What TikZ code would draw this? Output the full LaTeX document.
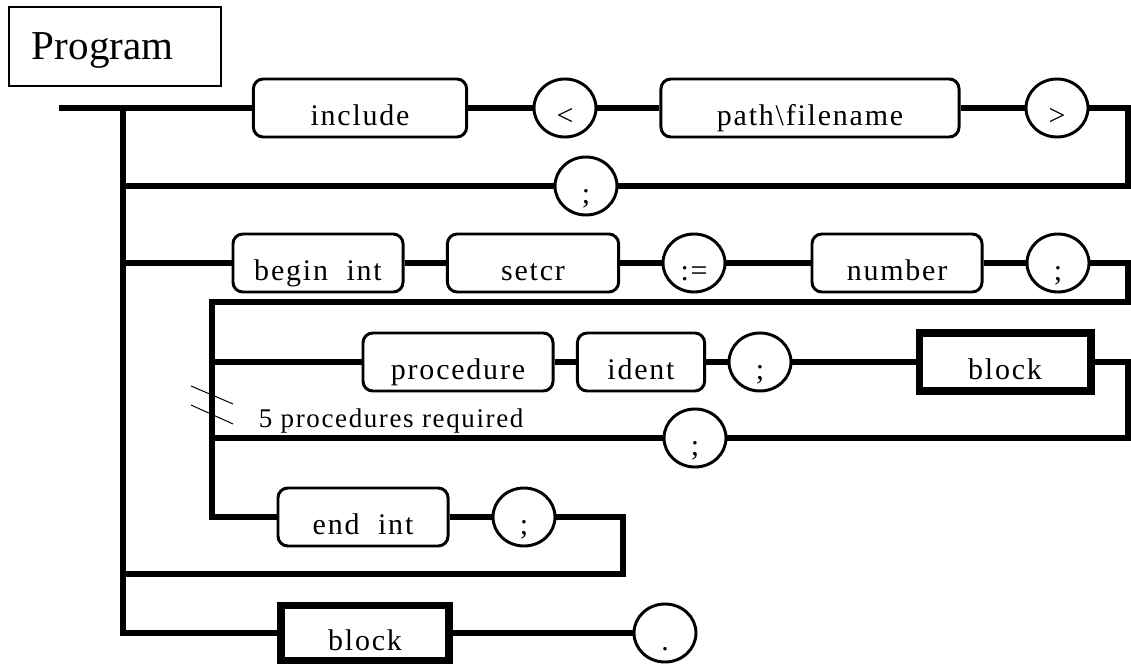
\documentclass[tikz,border=0pt]{standalone}
\usepackage{fontspec}
\setmainfont{Liberation Serif}
\newfontfamily\lblfont[LetterSpace=6]{Liberation Serif}
\usetikzlibrary{shapes.geometric}
\usetikzlibrary{calc}

\begin{document}
\begin{tikzpicture}
		[x=0.025cm, y=-0.025cm,
		line width=4pt,
		lbl/.style = {font=\lblfont\fontsize{21.3}{22}\selectfont},
		prog/.style = {draw, line width=1pt, minimum width=5.3cm, minimum height=1.975cm,
			text width=4.15cm, inner xsep=0.575cm, inner ysep=0pt, align=left,
			text height=1.175cm, text depth=0.5cm, font=\fontsize{29.2}{30}\selectfont},
		term/.style = {lbl, draw, rounded corners=7pt, line width=2.1pt, minimum height=1.45cm,
			inner sep=0pt, text height=0.85cm, text depth=0pt},
		sym/.style = {lbl, draw, ellipse, line width=2.1pt, minimum width=1.55cm, minimum height=1.45cm,
			inner sep=0pt, text height=0.85cm, text depth=0pt},
		nonterm/.style = {lbl, draw, line width=5.5pt, minimum height=1.45cm,
			inner sep=0pt, text height=0.85cm, text depth=0pt}
		]
		\useasboundingbox (0,0) rectangle (1131,668);

		\node[prog] (prog) at (115,46.5) {Program};

		% corners of the railroad
		\coordinate (start) at (59,108);
		\coordinate (top) at (123,108);
		\coordinate (bot) at (123,633);
		\coordinate (edgeA) at (1128,108);
		\coordinate (edgeB) at (1128,263);
		\coordinate (edgeC) at (1128,362);
		\coordinate (inner) at (212,302);
		\coordinate (back) at (623,574);

		% include line
		\node[term, minimum width=5.33cm] (incl) at (360,108) {include};
		\node[sym] (lt) at (565,108) {<};
		\node[term, minimum width=7.45cm] (path) at (810,108) {path\textbackslash filename};
		\node[sym] (gt) at (1057,108) {>};
		\node[sym] (semiA) at (586,186) {;};

		% begin int line
		\node[term, minimum width=4.25cm] (begint) at (318,263) {begin~ int};
		\node[term, minimum width=4.28cm] (setcr) at (533,263) {setcr};
		\node[sym] (assign) at (694,263) {:=};
		\node[term, minimum width=4.25cm] (number) at (897,263) {number};
		\node[sym] (semiB) at (1058,263) {;};

		% procedures
		\node[term, minimum width=4.75cm] (proc) at (458,362) {procedure};
		\node[term, minimum width=3.18cm] (ident) at (641,362) {ident};
		\node[sym] (semiC) at (760,362) {;};
		\node[nonterm, minimum width=4.28cm] (blockA) at (1005,362) {block};
		\node[sym] (semiD) at (695,438) {;};
		\node[lbl, font=\lblfont\fontsize{19.2}{20}\selectfont, anchor=base west, inner sep=0pt] (note) at (256,428) {5 procedures required};

		% end int and main block
		\node[term, minimum width=4.25cm] (endint) at (363,517) {end~ int};
		\node[sym] (semiE) at (524,517) {;};
		\node[nonterm, minimum width=4.2cm, minimum height=1.38cm] (blockB) at (365,633) {block};
		\node[sym] (stop) at (665,633) {.};

		\draw (start) -- (incl) -- (lt) -- (path) -- (gt) -- (edgeA) |- (semiA) -- (top |- semiA);
		\draw (top) -- (bot) -- (blockB) -- (stop);
		\draw (top |- begint) -- (begint) -- (setcr) -- (assign) -- (number) -- (semiB) -- (edgeB)
			|- (inner) |- (endint) -- (semiE) -| (back) -- (top |- back);
		\draw (inner |- proc) -- (proc) -- (ident) -- (semiC) -- (blockA) -- (edgeC) |- (semiD) -- (inner |- semiD);

		\draw[line width=0.7pt] (191,386) -- (233,404);
		\draw[line width=0.7pt] (191,405) -- (233,424);
	\end{tikzpicture}
\end{document}
